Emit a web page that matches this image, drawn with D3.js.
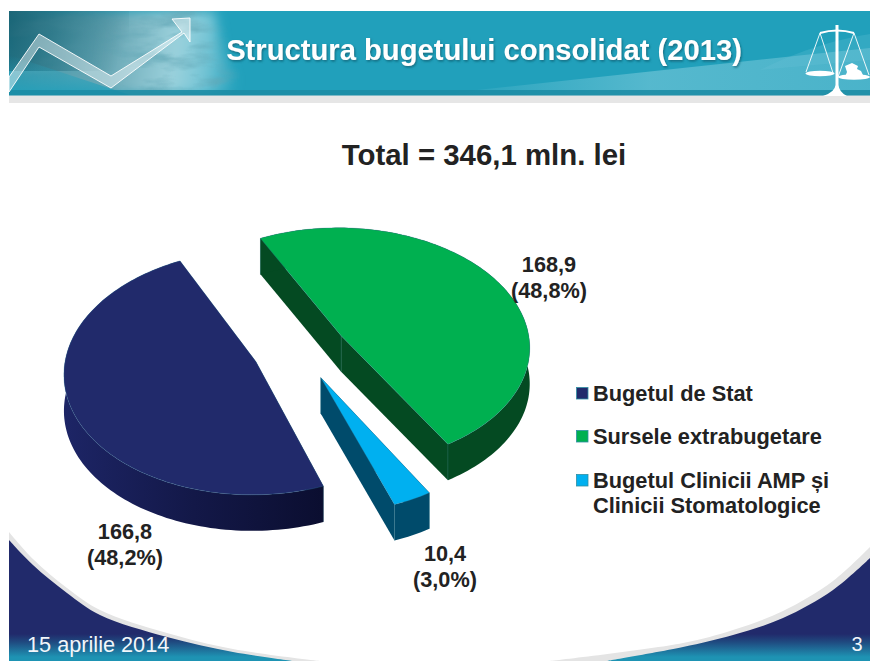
<!DOCTYPE html>
<html><head><meta charset="utf-8">
<script src="https://cdn.jsdelivr.net/npm/d3@7/dist/d3.min.js"></script>
<style>html,body{margin:0;padding:0;background:#fff;overflow:hidden}svg{display:block}text{font-family:"Liberation Sans",Arial,sans-serif}</style>
</head><body><svg id="c" width="870" height="661"></svg>
<script>
const slideTitle = "Structura bugetului consolidat (2013)";
const chartTitle = "Total = 346,1 mln. lei";
const footerDate = "15 aprilie 2014";
const pageNumber = "3";
const categories = ["Bugetul de Stat", "Sursele extrabugetare", "Bugetul Clinicii AMP și Clinicii Stomatologice"];
const legendLines = [["Bugetul de Stat"], ["Sursele extrabugetare"], ["Bugetul Clinicii AMP și", "Clinicii Stomatologice"]];
const values = [166.8, 168.9, 10.4];
const percents = [48.2, 48.8, 3.0];
const faceColors = ["#212a6b", "#00b050", "#00b0f0"];
const wallColors = ["url(#navyWall)", "#044a22", "#004b6b"];
const comma = v => v.toFixed(1).replace(".", ",");

const svg = d3.select("#c");
const defs = svg.append("defs");
function grad(id, x1, y1, x2, y2, stops){
  const g = defs.append("linearGradient").attr("id", id).attr("gradientUnits","userSpaceOnUse")
    .attr("x1",x1).attr("y1",y1).attr("x2",x2).attr("y2",y2);
  stops.forEach(s => g.append("stop").attr("offset",s[0]).attr("stop-color",s[1]).attr("stop-opacity",s[2]===undefined?1:s[2]));
}
grad("navyWall",64,0,323,0,[[0,"#1d2566"],[0.5,"#131848"],[1,"#0b0e30"]]);
grad("footer",0,634,0,657,[[0,"#212a6b"],[0.35,"#1f4a80"],[1,"#1e93b3"]]);
grad("haze",9,30,240,62,[[0,"#3f93a4",0.9],[0.45,"#6fa9b6",0.95],[0.72,"#a2d4de",0.95],[0.86,"#a9dbe5",0.6],[1,"#a9dbe5",0]]);
grad("wedge",430,0,870,0,[[0,"#6cc3d6",0],[0.5,"#6cc3d6",0.7],[1,"#6cc3d6",0.55]]);
grad("dark",9,11,120,60,[[0,"#175f70",0.9],[1,"#175f70",0]]);
grad("lowLeft",0,55,0,95,[[0,"#21a0bb",0],[1,"#21a0bb",0.85]]);
const tex = defs.append("filter").attr("id","tex").attr("x",0).attr("y",0).attr("width",1).attr("height",1);
tex.append("feGaussianBlur").attr("in","SourceAlpha").attr("stdDeviation",9).attr("result","mask");
tex.append("feTurbulence").attr("type","fractalNoise").attr("baseFrequency","0.02 0.06").attr("numOctaves",4).attr("seed",11);
tex.append("feColorMatrix").attr("type","matrix").attr("values","0 0 0 0 0.12  0 0 0 0 0.38  0 0 0 0 0.46  2.2 0 0 0 -0.92").attr("result","noise");
tex.append("feComposite").attr("in","noise").attr("in2","mask").attr("operator","in");
const soft = defs.append("filter").attr("id","soft").attr("x","-20%").attr("y","-20%").attr("width","140%").attr("height","140%");
soft.append("feGaussianBlur").attr("stdDeviation",6);
const blur = defs.append("filter").attr("id","sh").attr("x","-5%").attr("y","-20%").attr("width","110%").attr("height","140%");
blur.append("feDropShadow").attr("dx",1).attr("dy",1.5).attr("stdDeviation",1).attr("flood-color","#0d5566").attr("flood-opacity",0.7);
defs.append("clipPath").attr("id","hc").append("rect").attr("x",9).attr("y",11).attr("width",861).attr("height",84);

/* slide header */
const head = svg.append("g").attr("clip-path","url(#hc)");
head.append("rect").attr("x",9).attr("y",11).attr("width",861).attr("height",84).attr("fill","#21a0bb");
head.append("path").attr("d","M430,95 L870,48 L870,95 Z").attr("fill","url(#wedge)");
head.append("path").attr("d","M760,70 C790,55 830,40 870,34 L870,60 Z").attr("fill","#6cc3d6").attr("opacity",0.25);
head.append("path").attr("d","M9,11 H215 L222,50 L245,95 H9 Z").attr("fill","url(#haze)").attr("filter","url(#soft)");
head.append("path").attr("d","M-20,-10 H195 L240,110 H130 L-20,50 Z").attr("filter","url(#tex)").attr("opacity",0.85);
head.append("rect").attr("x",9).attr("y",11).attr("width",120).attr("height",60).attr("fill","url(#dark)");
head.append("path").attr("d","M9,55 L130,95 H9 Z").attr("fill","url(#lowLeft)");
head.append("rect").attr("x",9).attr("y",90).attr("width",861).attr("height",5).attr("fill","#1b8ba3").attr("opacity",0.85);
svg.append("rect").attr("x",9).attr("y",95).attr("width",861).attr("height",1.2).attr("fill","#7fb9c6");
svg.append("rect").attr("x",9).attr("y",96).attr("width",861).attr("height",7).attr("fill","#e6e6e6");
head.append("path").attr("d","M9,77 L39,34 L111,76 L182,32 L172,19 L190,18 L190,42 L184,33 L111,88 L39,47 L9,92 Z")
  .attr("fill","#ffffff").attr("fill-opacity",0.42).attr("stroke","#fff").attr("stroke-opacity",0.9).attr("stroke-width",1);

/* scales icon */
const icon = svg.append("g").attr("stroke","#fff").attr("fill","none");
icon.append("path").attr("d","M820,33 Q837,28 854,33").attr("stroke-width",2);
icon.append("path").attr("d","M820,33 L806,72 M820,33 L833,73 M854,33 L838,77 M854,33 L869,75").attr("stroke-width",0.9);
const ifill = svg.append("g").attr("fill","#fff");
ifill.append("path").attr("d","M835.5,25 H838.5 L838.5,85 Q839,92 847,96 H823 Q835,92 835.5,85 Z");
ifill.append("ellipse").attr("cx",820).attr("cy",73.5).attr("rx",14.5).attr("ry",2.8);
ifill.append("ellipse").attr("cx",854).attr("cy",77).attr("rx",16).attr("ry",2.8);
ifill.append("path").attr("d","M845,77 L847,72 L845,66 L852,63 L858,66 L857,69 L861,71 L864,77 Z");

/* bottom corners */
const curve = d3.line().curve(d3.curveCatmullRom);
const leftEdge = [[9,540],[33,565],[67,593],[100,615],[167,637],[233,652],[293,661]];
const rightEdge = [[607,661],[683,647],[733,635],[783,618],[833,590],[870,558]];
const leftGrey = [[9,532],[33,559],[67,588],[100,610],[167,633],[233,649],[320,661]];
const rightGrey = [[550,661],[683,643],[733,630],[783,611],[833,581],[870,547]];
svg.append("path").attr("d",curve(leftGrey)+"L320,661L9,661Z").attr("fill","#e4e4e4");
svg.append("path").attr("d",curve(rightGrey)+"L870,661L550,661Z").attr("fill","#e4e4e4");
svg.append("path").attr("d",curve(leftEdge)+"L293,661L9,661Z").attr("fill","url(#footer)");
svg.append("path").attr("d",curve(rightEdge)+"L870,661L607,661Z").attr("fill","url(#footer)");

svg.append("text").attr("x",484).attr("y",164.5).attr("text-anchor","middle").attr("font-size",29.4).attr("font-weight",700).attr("fill","#222").text(chartTitle);
svg.append("text").attr("x",484).attr("y",60).attr("text-anchor","middle").attr("font-size",29.2).attr("font-weight",700).attr("fill","#fff").attr("filter","url(#sh)").text(slideTitle);
svg.append("text").attr("x",27).attr("y",652).attr("font-size",21.7).attr("fill","#f2f6fa").text(footerDate);
svg.append("text").attr("x",857).attr("y",651).attr("text-anchor","middle").attr("font-size",20).attr("fill","#f2f6fa").text(pageNumber);

/* exploded 3D pie */
const cx = 300, cy = 350, rx = 189.5, ry = 119.5, persp = 0.085, depth = 36, explode = 0.25;
const rad = d => d * Math.PI / 180;
const pie = d3.pie().sort(null).startAngle(rad(160)).endAngle(rad(520));
const arcs = pie(values);
const rScale = d3.scaleLinear().domain([0,1]).range([0,1]);
function project(o, a, r, h){
  const u = o[0] + rScale(r) * Math.sin(a), v = o[1] - rScale(r) * Math.cos(a);
  const s = 1 / (1 - persp * v);
  return [cx + u * rx * s, cy + v * ry * s + h * depth];
}
const line = d3.line();
const chart = svg.append("g");
arcs.forEach((d, i) => {
  const mid = (d.startAngle + d.endAngle) / 2;
  const o = [explode * Math.sin(mid), -explode * Math.cos(mid)];
  const n = Math.max(8, Math.round((d.endAngle - d.startAngle) * 40));
  const ang = d3.range(n + 1).map(k => d.startAngle + (d.endAngle - d.startAngle) * k / n);
  const top = ang.map(a => project(o, a, 1, 0));
  const bot = ang.map(a => project(o, a, 1, 1));
  const apexT = project(o, mid, 0, 0), apexB = project(o, mid, 0, 1);
  const wall = wallColors[i];
  chart.append("path").attr("d", line([apexT, top[0], bot[0], apexB]) + "Z").attr("fill", wall);
  chart.append("path").attr("d", line([apexT, top[n], bot[n], apexB]) + "Z").attr("fill", wall);
  chart.append("path").attr("d", line(top.concat(bot.slice().reverse())) + "Z").attr("fill", wall);
  [[apexT, apexB], [top[0], bot[0]], [top[n], bot[n]]].forEach(p =>
    chart.append("path").attr("d", line(p)).attr("stroke", "#2f7f8f").attr("stroke-opacity", 0.45).attr("stroke-width", 0.6));
  chart.append("path").attr("d", line([apexT].concat(top)) + "Z").attr("fill", faceColors[i])
    .attr("stroke", "#2a7a9a").attr("stroke-opacity", 0.5).attr("stroke-width", 0.6);
});

/* value labels */
const labelPos = [[125,539],[549,272],[445,561]];
labelPos.forEach((p, i) => {
  const t = svg.append("text").attr("text-anchor","middle").attr("font-size",21.7).attr("font-weight",700).attr("fill","#222");
  t.append("tspan").attr("x",p[0]).attr("y",p[1]).text(comma(values[i]));
  t.append("tspan").attr("x",p[0]).attr("y",p[1]+26).text("(" + comma(percents[i]) + "%)");
});

/* legend */
const legendY = [400.5,443.5,487.5];
categories.forEach((c, i) => {
  svg.append("rect").attr("x",576.5).attr("y",Math.floor(legendY[i])-12.5).attr("width",11.5).attr("height",11.5)
    .attr("fill",faceColors[i]).attr("stroke","#2f8fa3").attr("stroke-width",0.8);
  legendLines[i].forEach((l, j) => svg.append("text").attr("x",593).attr("y",legendY[i]+j*25).attr("font-size",21.8).attr("font-weight",700).attr("fill","#222").text(l));
});
</script></body></html>
